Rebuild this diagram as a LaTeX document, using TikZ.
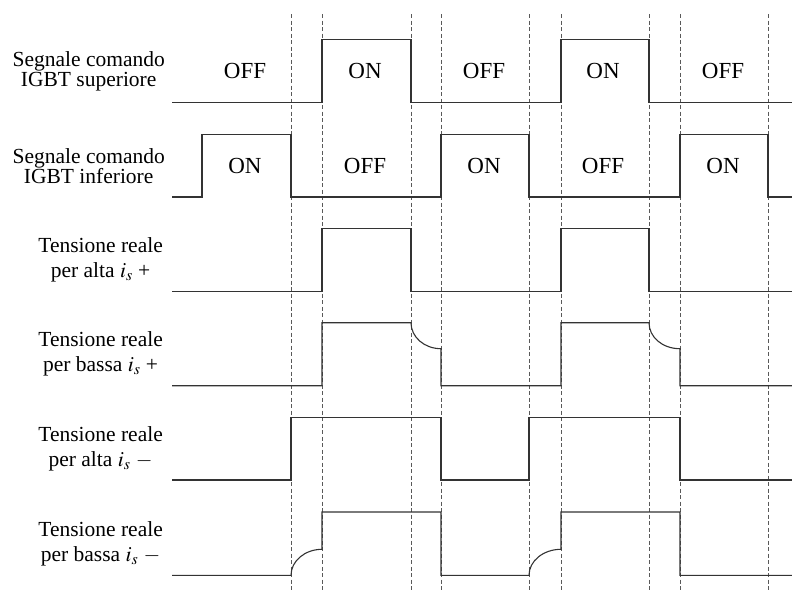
\documentclass[tikz,border=0pt]{standalone}
\usepackage{mathptmx}
\usepackage{fontspec}
\setmainfont{Liberation Serif}

\begin{document}
\begin{tikzpicture}[x=1pt,y=-1pt,
    sig/.style={black!80,line width=1.1pt},
    tick/.style={black!65,dash pattern=on 4pt off 2.5pt,line width=0.8pt},
    lbl/.style={anchor=east,align=center,inner sep=0pt,font=\fontsize{21.5}{24.5}\selectfont},
    cmdlbl/.style={lbl,font=\fontsize{21.5}{20}\selectfont},
    state/.style={inner sep=0pt,font=\fontsize{23}{23}\selectfont}]

    \useasboundingbox (0,0) rectangle (792,592);

    % dashed time marks
    \foreach \t in {291,322,411,441,529,561,649,680,768}
        \draw [tick] (\t,14) -- (\t,592);

    % IGBT superiore
    \draw [sig] (172,102.7) -- (322,102.7) -- (322,39.3) -- (411,39.3) -- (411,102.7)
        -- (561,102.7) -- (561,39.3) -- (649,39.3) -- (649,102.7) -- (792,102.7);
    \node [cmdlbl] (lblsup) at (165,71) {Segnale comando\\IGBT superiore};
    \foreach \x/\s [count=\i] in {245/OFF,365/ON,484/OFF,603/ON,723/OFF}
        \node [state] (sup\i) at (\x,71) {\s};

    % IGBT inferiore
    \draw [sig] (172,197) -- (202,197) -- (202,134.3) -- (291,134.3) -- (291,197)
        -- (441,197) -- (441,134.3) -- (529,134.3) -- (529,197)
        -- (680,197) -- (680,134.3) -- (768,134.3) -- (768,197) -- (792,197);
    \node [cmdlbl] (lblinf) at (165,166) {Segnale comando\\IGBT inferiore};
    \foreach \x/\s [count=\i] in {245/ON,365/OFF,484/ON,603/OFF,723/ON}
        \node [state] (inf\i) at (\x,166) {\s};

    % alta i_s +
    \draw [sig] (172,291.7) -- (322,291.7) -- (322,228.3) -- (411,228.3) -- (411,291.7)
        -- (561,291.7) -- (561,228.3) -- (649,228.3) -- (649,291.7) -- (792,291.7);
    \node [lbl] (lblaltap) at (163,260) {Tensione reale\\per alta $i_s$ +};

    % bassa i_s +
    \draw [sig] (172,385.7) -- (322,385.7) -- (322,322.7) -- (411,322.7)
        .. controls (411,337.1) and (424.4,348.7) .. (441,348.7) -- (441,385.7)
        -- (561,385.7) -- (561,322.7) -- (649,322.7)
        .. controls (649,337.1) and (662.4,348.7) .. (680,348.7) -- (680,385.7) -- (792,385.7);
    \node [lbl] (lblbassap) at (163,354) {Tensione reale\\per bassa $i_s$ +};

    % alta i_s -
    \draw [sig] (172,480) -- (291,480) -- (291,417.7) -- (441,417.7) -- (441,480)
        -- (529,480) -- (529,417.7) -- (680,417.7) -- (680,480) -- (792,480);
    \node [lbl] (lblaltam) at (163,449) {Tensione reale\\per alta $i_s$ $-$};

    % bassa i_s -
    \draw [sig] (172,575.3) -- (291,575.3)
        .. controls (291,561) and (304.9,549.3) .. (322,549.3) -- (322,512) -- (441,512)
        -- (441,575.3) -- (529,575.3)
        .. controls (529,561) and (543.3,549.3) .. (561,549.3) -- (561,512) -- (680,512)
        -- (680,575.3) -- (792,575.3);
    \node [lbl] (lblbassam) at (163,544) {Tensione reale\\per bassa $i_s$ $-$};

\end{tikzpicture}
\end{document}
